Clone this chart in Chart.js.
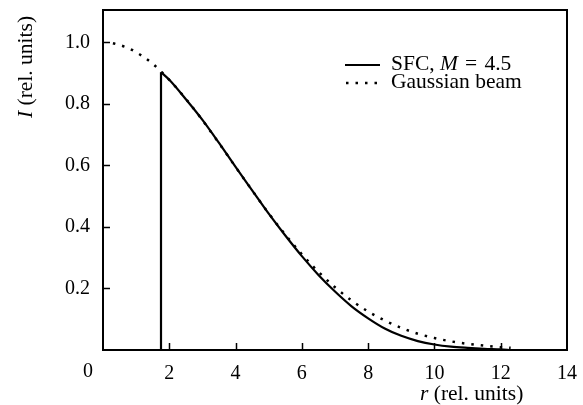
<!DOCTYPE html>
<html>
<head>
<meta charset="utf-8">
<script src="https://cdn.jsdelivr.net/npm/chart.js@4.4.1/dist/chart.umd.min.js"></script>
<style>
html,body{margin:0;padding:0;background:#fff;}
#wrap{width:583px;height:405px;position:relative;}
</style>
</head>
<body>
<div id="wrap"><canvas id="c" width="583" height="405"></canvas></div>
<script>
// ---- data ----
const sfcR = [1.75, 2.0, 2.5, 3.0, 3.5, 4.0, 4.5, 5.0, 5.5, 6.0, 6.5, 7.0, 7.5, 8.0, 8.5, 9.0, 9.5, 10.0, 10.5, 11.0, 11.5, 12.0, 12.3];
const sfcI = [0.903, 0.878, 0.815, 0.748, 0.673, 0.595, 0.519, 0.443, 0.372, 0.305, 0.244, 0.190, 0.142, 0.103, 0.070, 0.046, 0.029, 0.018, 0.011, 0.007, 0.004, 0.002, 0.0];
const gaussR = [0.3, 0.7, 1.0, 1.5, 2.0, 2.5, 3.0, 3.5, 4.0, 4.5, 5.0, 5.5, 6.0, 6.5, 7.0, 7.5, 8.0, 8.5, 9.0, 9.5, 10.0, 10.5, 11.0, 11.5, 12.0, 12.3];
const gaussI = [0.997, 0.984, 0.968, 0.930, 0.878, 0.816, 0.747, 0.672, 0.595, 0.519, 0.444, 0.375, 0.311, 0.254, 0.204, 0.161, 0.125, 0.096, 0.072, 0.053, 0.039, 0.028, 0.020, 0.014, 0.009, 0.007];
const xTicks = [0, 2, 4, 6, 8, 10, 12, 14];
const yTicks = [0.2, 0.4, 0.6, 0.8, 1.0];
const legendLabels = ['SFC, ', 'M', '\u2004=\u20044.5', 'Gaussian beam'];

const SERIF = '"Liberation Serif", "Times New Roman", serif';

const pts = (xs, ys) => xs.map((v, i) => ({x: v, y: ys[i]}));

const decor = {
  id: 'decor',
  afterDraw(chart) {
    const {ctx, chartArea: a, scales: {x, y}} = chart;
    ctx.save();
    ctx.strokeStyle = '#000';
    ctx.fillStyle = '#000';
    // frame
    ctx.lineWidth = 2;
    ctx.strokeRect(a.left, a.top, a.right - a.left, a.bottom - a.top);
    // inward ticks
    ctx.lineWidth = 1.5;
    ctx.beginPath();
    xTicks.forEach(v => {
      if (v === xTicks[0] || v === xTicks[xTicks.length - 1]) return;
      const px = Math.round(x.getPixelForValue(v)) + 0.5;
      ctx.moveTo(px, a.bottom); ctx.lineTo(px, a.bottom - 7);
    });
    yTicks.forEach(v => {
      const py = Math.round(y.getPixelForValue(v)) + 0.5;
      ctx.moveTo(a.left, py); ctx.lineTo(a.left + 7, py);
    });
    ctx.stroke();
    // "0" label shifted left of the frame
    ctx.font = '20px ' + SERIF;
    ctx.textAlign = 'center';
    ctx.textBaseline = 'middle';
    ctx.fillText('0', x.getPixelForValue(0) - 15, 372);

    // legend
    const lx0 = 345, lx1 = 380;
    ctx.lineWidth = 2;
    ctx.setLineDash([]);
    ctx.beginPath(); ctx.moveTo(lx0, 65); ctx.lineTo(lx1, 65); ctx.stroke();
    ctx.lineWidth = 2.5;
    ctx.setLineDash([2.5, 7]);
    ctx.beginPath(); ctx.moveTo(lx0 + 1, 83); ctx.lineTo(lx1 + 2, 83); ctx.stroke();
    ctx.setLineDash([]);
    ctx.textAlign = 'left';
    ctx.textBaseline = 'alphabetic';
    let tx = 391;
    ctx.font = '21.5px ' + SERIF;
    ctx.fillText(legendLabels[0], tx, 70); tx += ctx.measureText(legendLabels[0]).width;
    ctx.font = 'italic 21.5px ' + SERIF;
    ctx.fillText(legendLabels[1], tx, 70); tx += ctx.measureText(legendLabels[1]).width;
    ctx.font = '21.5px ' + SERIF;
    ctx.fillText(legendLabels[2], tx, 70);
    ctx.fillText(legendLabels[3], 391, 88);

    // x axis title
    ctx.font = 'italic 21.5px ' + SERIF;
    let ax = 420;
    ctx.fillText('r', ax, 400); ax += ctx.measureText('r ').width;
    ctx.font = '21.5px ' + SERIF;
    ctx.fillText('(rel. units)', ax, 400);

    // y axis title
    ctx.translate(32, 118);
    ctx.rotate(-Math.PI / 2);
    ctx.font = 'italic 21.5px ' + SERIF;
    ctx.fillText('I', 0, 0);
    let ay = ctx.measureText('I ').width;
    ctx.font = '21.5px ' + SERIF;
    ctx.fillText('(rel. units)', ay, 0);
    ctx.restore();
  }
};

new Chart(document.getElementById('c'), {
  type: 'line',
  data: {
    datasets: [
      {
        label: 'Gaussian beam',
        data: pts(gaussR, gaussI),
        borderColor: '#000',
        borderWidth: 2.5,
        borderDash: [2.5, 7],
        pointRadius: 0,
        fill: false,
        cubicInterpolationMode: 'monotone'
      },
      {
        label: 'SFC edge',
        data: [{x: sfcR[0], y: 0}, {x: sfcR[0], y: sfcI[0]}],
        borderColor: '#000',
        borderWidth: 2.2,
        pointRadius: 0,
        fill: false,
        tension: 0
      },
      {
        label: 'SFC, M = 4.5',
        data: pts(sfcR, sfcI),
        borderColor: '#000',
        borderWidth: 2.2,
        pointRadius: 0,
        fill: false,
        cubicInterpolationMode: 'monotone'
      }
    ]
  },
  options: {
    responsive: false,
    animation: false,
    devicePixelRatio: 1,
    layout: {padding: {left: 0, right: 16, top: 10, bottom: 0}},
    plugins: {legend: {display: false}, tooltip: {enabled: false}},
    scales: {
      x: {
        type: 'linear',
        min: 0, max: 14,
        afterBuildTicks: s => { s.ticks = xTicks.map(v => ({value: v})); },
        afterFit: s => { s.height = 55; s.paddingLeft = 0; s.paddingRight = 0; },
        grid: {display: false, drawTicks: false},
        border: {display: false},
        ticks: {
          padding: 12,
          color: '#000',
          font: {family: SERIF, size: 20},
          maxRotation: 0,
          callback: v => (v === 0 ? '' : String(v))
        }
      },
      y: {
        type: 'linear',
        min: 0, max: 1.105,
        afterBuildTicks: s => { s.ticks = yTicks.map(v => ({value: v})); },
        afterFit: s => { s.width = 103; s.paddingTop = 0; s.paddingBottom = 0; },
        grid: {display: false, drawTicks: false},
        border: {display: false},
        ticks: {
          padding: 13,
          color: '#000',
          font: {family: SERIF, size: 20},
          callback: v => Number(v).toFixed(1)
        }
      }
    }
  },
  plugins: [decor]
});
</script>
</body>
</html>
